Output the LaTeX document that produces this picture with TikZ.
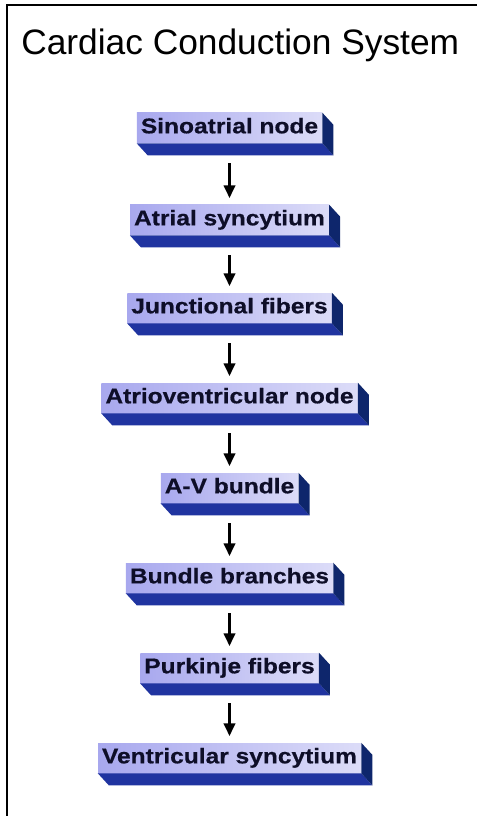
\documentclass[tikz,border=0pt]{standalone}
\usepackage{fontspec}
\setmainfont{Liberation Sans}
\newfontfamily\boxfont[FakeStretch=1.15,FakeBold=0.6]{Liberation Sans Bold}
\usetikzlibrary{arrows.meta}

\definecolor{boxL}{RGB}{168,168,238}
\definecolor{boxR}{RGB}{220,220,248}
\definecolor{faceB}{RGB}{32,52,160}
\definecolor{faceR}{RGB}{14,38,108}
\definecolor{boxText}{RGB}{14,14,40}

\tikzset{
  stage/.style={left color=boxL, right color=boxR, text=boxText,
    font=\boxfont\fontsize{16}{18}\selectfont,
    text height=11.5pt, text depth=3.5pt, inner xsep=3pt, inner ysep=3.75pt},
  flow/.style={line width=1.9pt, -{Triangle[width=8.5pt,length=9.5pt]},
    shorten <=15pt, shorten >=5pt}
}

\begin{document}
\begin{tikzpicture}[x=0.75pt, y=-0.75pt]

  \useasboundingbox (0,0) rectangle (477,816);

  % -- Frame --
  \draw[line width=1.5pt] (7,816) -- (7,5) -- (477,5);

  % -- Title --
  \node[anchor=base west, inner sep=0pt, font=\fontsize{26.5}{30}\selectfont] (title) at (21,55) {Cardiac Conduction System};

  % -- Stages --
  \node[stage] (sa)   at (229.5,128) {Sinoatrial node};
  \node[stage] (atr)  at (229.5,220) {Atrial syncytium};
  \node[stage] (jf)   at (229.5,308) {Junctional fibers};
  \node[stage] (av)   at (229.5,398) {Atrioventricular node};
  \node[stage] (avb)  at (229.5,488) {A-V bundle};
  \node[stage] (bb)   at (229.5,578) {Bundle branches};
  \node[stage] (pf)   at (229.5,668) {Purkinje fibers};
  \node[stage] (vs)   at (229.5,758) {Ventricular syncytium};

  % -- Extruded faces --
  \foreach \n in {sa,atr,jf,av,avb,bb,pf,vs} {
    \fill[faceB] (\n.south west) -- (\n.south east) -- ([shift={(11,12)}]\n.south east) -- ([shift={(11,12)}]\n.south west) -- cycle;
    \fill[faceR] (\n.north east) -- ([shift={(11,12)}]\n.north east) -- ([shift={(11,12)}]\n.south east) -- (\n.south east) -- cycle;
  }

  % -- Conduction path --
  \draw[flow] (sa) -- (atr);
  \draw[flow] (atr) -- (jf);
  \draw[flow] (jf) -- (av);
  \draw[flow] (av) -- (avb);
  \draw[flow] (avb) -- (bb);
  \draw[flow] (bb) -- (pf);
  \draw[flow] (pf) -- (vs);

\end{tikzpicture}
\end{document}
